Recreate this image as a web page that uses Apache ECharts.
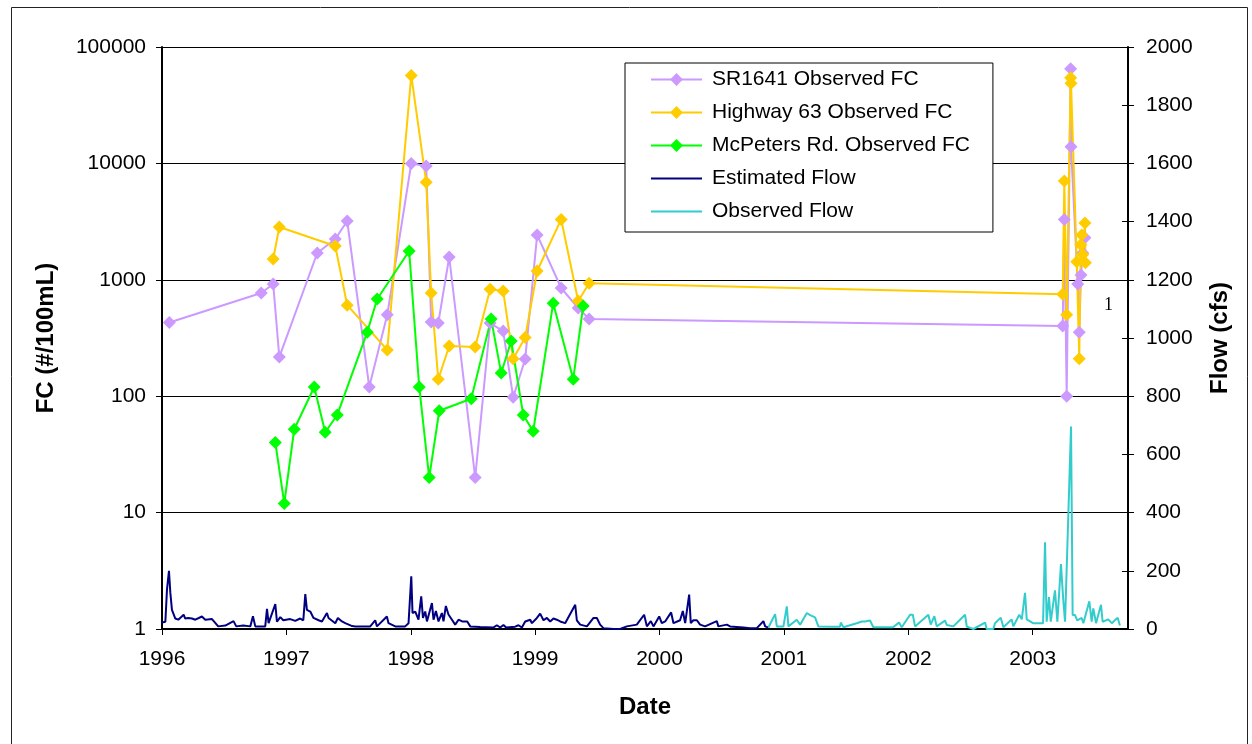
<!DOCTYPE html>
<html>
<head>
<meta charset="utf-8">
<title>Fecal coliform and flow</title>
<script src="https://cdn.jsdelivr.net/npm/echarts@6/dist/echarts.min.js"></script>
<style>
  html, body { margin: 0; padding: 0; background: #fff; }
  #chart { width: 1252px; height: 744px; }
</style>
</head>
<body>
<div id="chart"></div>
<script>
// sample times are decimal years
const yearTicks = [1996, 1997, 1998, 1999, 2000, 2001, 2002, 2003]

// SR1641 observed FC
const srYear = [1996.059, 1996.798, 1996.894, 1996.943, 1997.248, 1997.393, 1997.489, 1997.666, 1997.811,
  1998.004, 1998.124, 1998.164, 1998.221, 1998.309, 1998.518, 1998.638, 1998.743, 1998.823, 1998.920,
  1999.016, 1999.209, 1999.346, 1999.434,
  2003.241, 2003.254, 2003.273, 2003.305, 2003.308, 2003.362, 2003.374, 2003.388, 2003.402, 2003.420]
const srFC = [430, 770, 920, 217, 1700, 2240, 3200, 120, 500,
  10000, 9500, 434, 425, 1570, 20, 425, 363, 98, 209,
  2430, 850, 572, 460,
  400, 3300, 100, 64900, 13900, 920, 355, 1100, 1700, 2300]

// Highway 63 observed FC
const hwYear = [1996.894, 1996.943, 1997.393, 1997.489, 1997.811,
  1998.004, 1998.124, 1998.164, 1998.221, 1998.309, 1998.518, 1998.638, 1998.743, 1998.823, 1998.920,
  1999.016, 1999.209, 1999.346, 1999.434,
  2003.241, 2003.254, 2003.273, 2003.305, 2003.308, 2003.354, 2003.374, 2003.386, 2003.394, 2003.402, 2003.420, 2003.424]
const hwFC = [1510, 2840, 1950, 605, 250,
  57000, 6900, 770, 140, 270, 265, 830, 800, 210, 320,
  1190, 3300, 658, 935,
  750, 7060, 500, 54500, 48800, 1430, 210, 2000, 2430, 1650, 3080, 1400]

// McPeters Rd. observed FC
const mcYear = [1996.911, 1996.983, 1997.063, 1997.224, 1997.312, 1997.409, 1997.650, 1997.730, 1997.987,
  1998.068, 1998.148, 1998.229, 1998.486, 1998.646, 1998.727, 1998.807, 1998.904, 1998.984,
  1999.145, 1999.306, 1999.386]
const mcFC = [40, 12, 52, 120, 49, 69, 355, 684, 1770,
  120, 20, 75, 95, 460, 158, 298, 69, 50,
  630, 140, 595]

// estimated flow (cfs)
const estYear = [1995.946, 1995.986, 1996.027, 1996.040, 1996.056, 1996.067, 1996.080, 1996.095, 1996.107, 1996.131,
  1996.174, 1996.187, 1996.211, 1996.241, 1996.268, 1996.321, 1996.348, 1996.402, 1996.452, 1996.509,
  1996.575, 1996.597, 1996.653, 1996.710, 1996.731, 1996.750, 1996.830, 1996.844, 1996.857, 1996.911,
  1996.924, 1996.951, 1996.975, 1997.031, 1997.071, 1997.111, 1997.136, 1997.152, 1997.165, 1997.192,
  1997.218, 1997.259, 1997.286, 1997.326, 1997.339, 1997.393, 1997.414, 1997.447, 1997.473, 1997.529,
  1997.554, 1997.674, 1997.714, 1997.728, 1997.808, 1997.821, 1997.875, 1997.955, 1997.982, 1998.004,
  1998.014, 1998.036, 1998.062, 1998.084, 1998.098, 1998.116, 1998.130, 1998.170, 1998.183, 1998.202,
  1998.223, 1998.250, 1998.263, 1998.282, 1998.303, 1998.331, 1998.357, 1998.384, 1998.413, 1998.454,
  1998.478, 1998.558, 1998.663, 1998.692, 1998.719, 1998.745, 1998.767, 1998.839, 1998.866, 1998.893,
  1998.920, 1998.936, 1998.960, 1998.974, 1999.014, 1999.040, 1999.067, 1999.094, 1999.121, 1999.147,
  1999.174, 1999.201, 1999.241, 1999.322, 1999.335, 1999.362, 1999.416, 1999.469, 1999.496, 1999.522,
  1999.549, 1999.629, 1999.683, 1999.737, 1999.817, 1999.876, 1999.898, 1999.930, 1999.951, 1999.997,
  2000.018, 2000.045, 2000.093, 2000.112, 2000.165, 2000.187, 2000.206, 2000.238, 2000.251, 2000.272,
  2000.300, 2000.326, 2000.366, 2000.460, 2000.473, 2000.541, 2000.567, 2000.674, 2000.728, 2000.782,
  2000.835, 2000.849, 2000.875]
const estFlow = [21, 21, 25, 135, 200, 125, 66, 60, 36, 32,
  49, 36, 38, 36, 32, 43, 32, 34, 9, 12,
  27, 9, 12, 9, 44, 9, 9, 69, 20, 86,
  25, 41, 30, 34, 28, 36, 30, 120, 66, 60,
  38, 30, 26, 55, 38, 20, 38, 26, 20, 10,
  9, 9, 30, 9, 43, 20, 9, 9, 20, 181,
  55, 60, 32, 112, 38, 60, 26, 89, 32, 62,
  26, 55, 26, 79, 50, 32, 15, 32, 26, 26,
  9, 7, 5, 13, 5, 14, 5, 8, 13, 5,
  26, 32, 32, 20, 38, 53, 30, 38, 26, 36,
  32, 26, 20, 83, 30, 15, 9, 38, 38, 15,
  3, 0, 0, 9, 15, 49, 9, 27, 9, 43,
  20, 26, 57, 20, 30, 62, 20, 118, 20, 30,
  30, 15, 9, 27, 9, 15, 9, 5, 3, 3,
  27, 9, 5]

// observed flow (cfs)
const obsYear = [2000.875, 2000.889, 2000.929, 2000.943, 2000.996, 2001.023, 2001.036, 2001.103, 2001.130, 2001.184,
  2001.210, 2001.250, 2001.277, 2001.371, 2001.451, 2001.457, 2001.478, 2001.585, 2001.626, 2001.652,
  2001.692, 2001.719, 2001.773, 2001.877, 2001.925, 2001.947, 2002.014, 2002.036, 2002.054, 2002.161,
  2002.180, 2002.209, 2002.228, 2002.295, 2002.309, 2002.362, 2002.456, 2002.470, 2002.523, 2002.617,
  2002.630, 2002.683, 2002.697, 2002.743, 2002.764, 2002.831, 2002.844, 2002.892, 2002.912, 2002.938,
  2002.952, 2003.002, 2003.083, 2003.099, 2003.112, 2003.131, 2003.145, 2003.179, 2003.198, 2003.227,
  2003.246, 2003.260, 2003.308, 2003.321, 2003.340, 2003.358, 2003.394, 2003.407, 2003.455, 2003.474,
  2003.487, 2003.509, 2003.549, 2003.562, 2003.607, 2003.635, 2003.683, 2003.701]
const obsFlow = [5, 5, 51, 9, 9, 78, 9, 32, 15, 55,
  48, 40, 9, 8, 8, 22, 6, 20, 26, 26,
  29, 6, 6, 6, 22, 6, 49, 49, 9, 49,
  15, 44, 9, 29, 14, 9, 49, 8, 0, 22,
  0, 0, 20, 39, 6, 33, 9, 49, 33, 124,
  33, 20, 20, 298, 25, 110, 25, 133, 25, 223,
  97, 25, 696, 48, 48, 30, 38, 20, 95, 25,
  71, 20, 83, 25, 33, 20, 39, 12]

const pairs = (xs, ys) => xs.map((x, i) => [x, ys[i]])

const font = 'Liberation Sans, Arial, sans-serif'
const chart = echarts.init(document.getElementById('chart'))

const fcSeries = (name, color, xs, ys) => ({
  name,
  type: 'line',
  yAxisIndex: 0,
  data: pairs(xs, ys),
  symbol: 'diamond',
  symbolSize: 13,
  color,
  lineStyle: { color, width: 2 },
  itemStyle: { color },
  emphasis: { disabled: true }
})

const flowSeries = (name, color, xs, ys) => ({
  name,
  type: 'line',
  yAxisIndex: 1,
  data: pairs(xs, ys),
  symbol: 'none',
  clip: false,
  color,
  lineStyle: { color, width: 2 },
  emphasis: { disabled: true }
})

chart.setOption({
  animation: false,
  backgroundColor: '#fff',
  textStyle: { fontFamily: font },
  grid: { left: 162, right: 124, top: 47, bottom: 115 },
  legend: {
    orient: 'vertical',
    left: 625,
    top: 63,
    backgroundColor: '#fff',
    borderColor: '#000',
    borderWidth: 1,
    padding: [6, 23, 10, 25],
    itemWidth: 51,
    itemHeight: 16,
    itemGap: 12,
    selectedMode: false,
    textStyle: { fontFamily: font, fontSize: 21, color: '#000', lineHeight: 21, padding: [0, 0, 0, 5] },
    data: [
      'SR1641 Observed FC',
      'Highway 63 Observed FC',
      'McPeters Rd. Observed FC',
      // flow entries show a plain line, no marker
      { name: 'Estimated Flow', itemStyle: { opacity: 0 } },
      { name: 'Observed Flow', itemStyle: { opacity: 0 } }
    ]
  },
  xAxis: {
    type: 'value',
    min: 1996,
    max: 2003.766,
    interval: 1,
    name: 'Date',
    nameLocation: 'middle',
    nameGap: 66,
    nameTextStyle: { fontFamily: font, fontSize: 24, fontWeight: 'bold', color: '#000' },
    axisLine: { show: true, lineStyle: { color: '#000', width: 2 } },
    axisTick: { show: true, inside: false, length: 6, lineStyle: { color: '#000', width: 1 }, customValues: yearTicks },
    axisLabel: { color: '#000', fontSize: 21, margin: 20, customValues: yearTicks, formatter: v => String(Math.round(v)) },
    splitLine: { show: false }
  },
  yAxis: [
    {
      type: 'log',
      logBase: 10,
      min: 1,
      max: 100000,
      position: 'left',
      name: 'FC (#/100mL)',
      nameLocation: 'middle',
      nameGap: 104,
      nameRotate: 90,
      nameTextStyle: { fontFamily: font, fontSize: 24, fontWeight: 'bold', color: '#000' },
      axisLine: { show: true, lineStyle: { color: '#000', width: 2 } },
      axisTick: { show: true, inside: false, length: 6, lineStyle: { color: '#000', width: 1 } },
      axisLabel: { color: '#000', fontSize: 21, margin: 16, formatter: v => String(Math.round(v)) },
      splitLine: { show: true, lineStyle: { color: '#000', width: 1 } },
      minorTick: { show: false }
    },
    {
      type: 'value',
      min: 0,
      max: 2000,
      interval: 200,
      position: 'right',
      name: 'Flow (cfs)',
      nameLocation: 'middle',
      nameGap: 80,
      nameRotate: 90,
      nameTextStyle: { fontFamily: font, fontSize: 24, fontWeight: 'bold', color: '#000' },
      axisLine: { show: true, lineStyle: { color: '#000', width: 2 } },
      axisTick: { show: true, inside: false, length: 6, lineStyle: { color: '#000', width: 1 } },
      axisLabel: { color: '#000', fontSize: 21, margin: 18, formatter: v => String(Math.round(v)) },
      splitLine: { show: false }
    },
    {
      // inner half of the cross ticks on the flow axis
      type: 'value',
      min: 0,
      max: 2000,
      interval: 200,
      position: 'right',
      axisLine: { show: false },
      axisTick: { show: true, inside: true, length: 6, lineStyle: { color: '#000', width: 1 } },
      axisLabel: { show: false },
      splitLine: { show: false }
    }
  ],
  graphic: [
    {
      type: 'rect',
      left: 9,
      top: 5,
      shape: { width: 1236, height: 760 },
      style: { fill: 'none', stroke: '#222', lineWidth: 1 },
      silent: true
    },
    {
      type: 'text',
      left: 1104,
      top: 296,
      style: { text: '1', font: '18px "Liberation Serif", serif', fill: '#000' },
      silent: true
    }
  ],
  series: [
    fcSeries('SR1641 Observed FC', '#cc99ff', srYear, srFC),
    fcSeries('Highway 63 Observed FC', '#ffcc00', hwYear, hwFC),
    fcSeries('McPeters Rd. Observed FC', '#00ff00', mcYear, mcFC),
    flowSeries('Estimated Flow', '#000080', estYear, estFlow),
    flowSeries('Observed Flow', '#33cccc', obsYear, obsFlow)
  ]
})
</script>
</body>
</html>
